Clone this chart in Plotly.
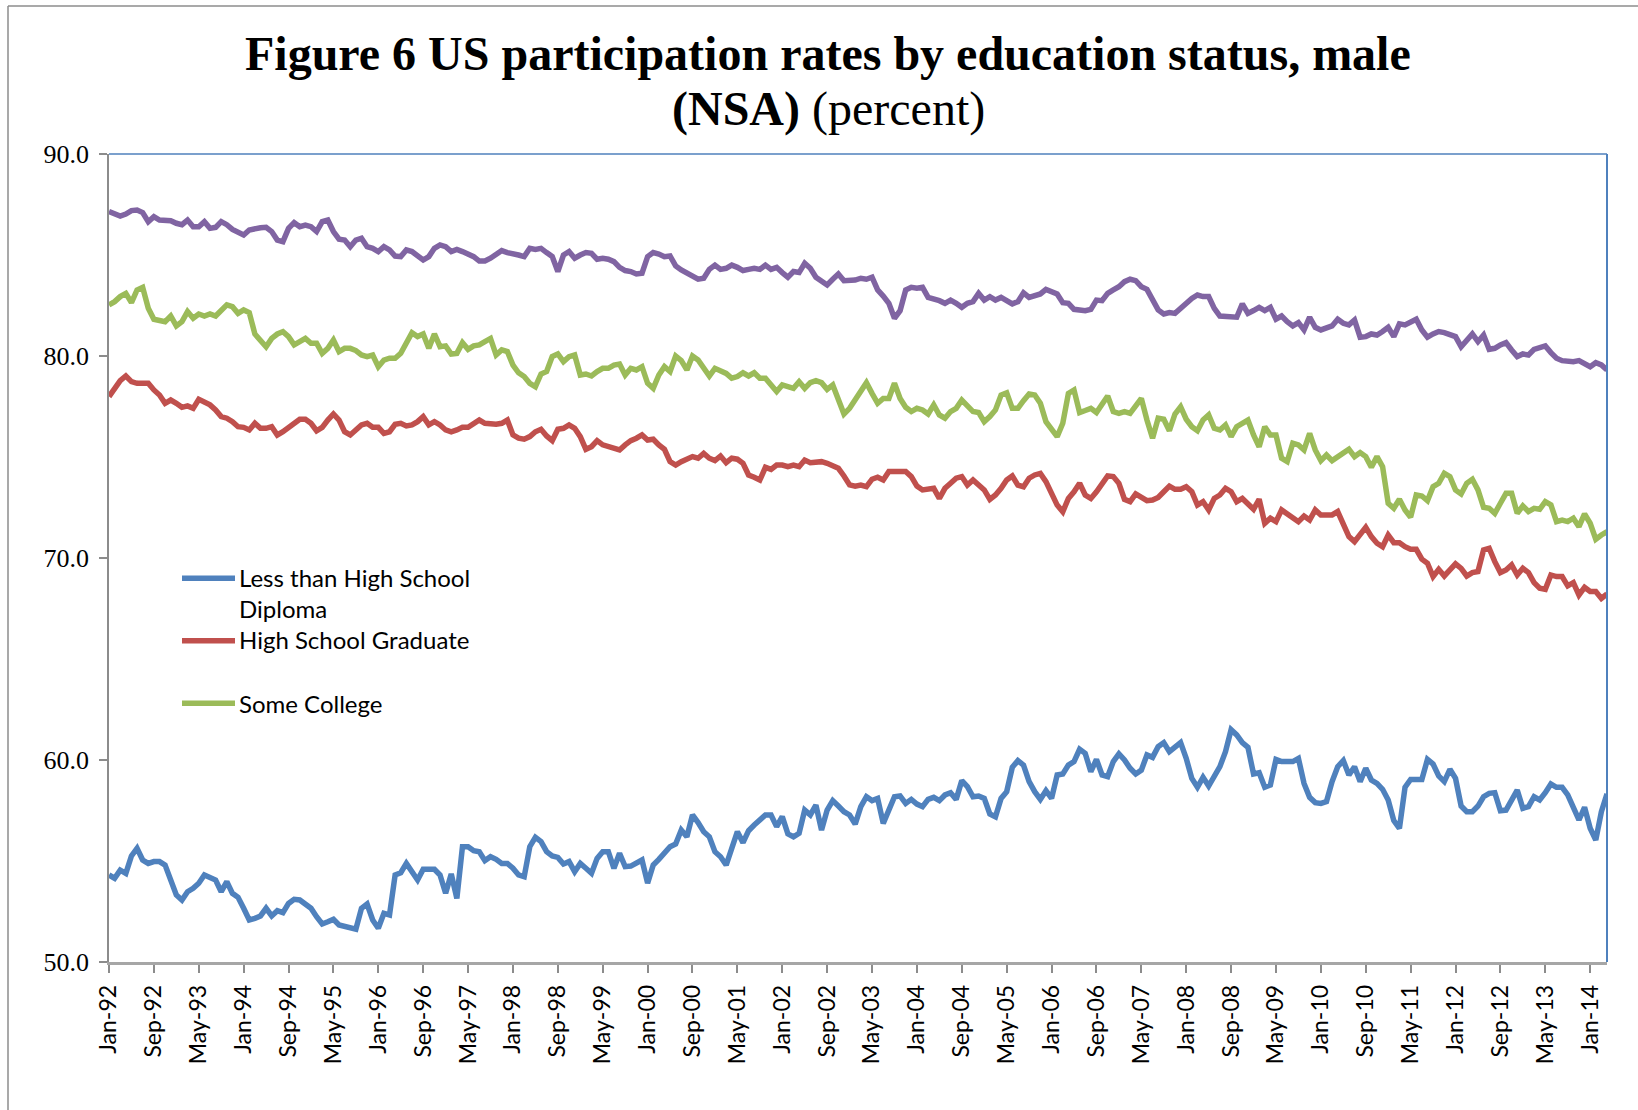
import pandas as pd
import plotly.graph_objects as go

# Monthly observations, Jan-1992 through Apr-2014
months = pd.date_range("1992-01-01", periods=268, freq="MS").strftime("%b-%y").tolist()

less_than_hs = [
    54.31, 54.14, 54.55, 54.39, 55.25, 55.63, 55.05, 54.88, 54.97, 54.97,
    54.8, 54.06, 53.32, 53.07, 53.48, 53.65, 53.9, 54.31, 54.22, 54.06,
    53.48, 53.98, 53.4, 53.2, 52.66, 52.08, 52.16, 52.28, 52.66, 52.28,
    52.54, 52.44, 52.9, 53.1, 53.07, 52.87, 52.66, 52.24, 51.88, 51.99,
    52.11, 51.83, 51.78, 51.72, 51.62, 52.66, 52.87, 52.08, 51.67, 52.41,
    52.33, 54.31, 54.42, 54.88, 54.47, 54.06, 54.59, 54.59, 54.59, 54.31,
    53.4, 54.36, 53.15, 55.71, 55.71, 55.51, 55.46, 55.02,
    55.21, 55.08, 54.88, 54.88, 54.64, 54.31, 54.22, 55.71, 56.17, 55.96,
    55.46, 55.25, 55.18, 54.85, 54.97, 54.47, 54.88, 54.64, 54.39, 55.13,
    55.46, 55.46, 54.64, 55.38, 54.72, 54.75, 54.92, 55.05, 53.9, 54.8,
    55.08, 55.35, 55.71, 55.84, 56.53, 56.2, 57.28, 56.9, 56.45, 56.2,
    55.46, 55.21, 54.8, 55.63, 56.45, 55.91, 56.5, 56.78, 56.99, 57.28,
    57.28, 56.7, 57.2, 56.34, 56.2, 56.37, 57.52, 57.28, 57.77, 56.53,
    57.52, 57.99, 57.72, 57.44, 57.28, 56.83, 57.69, 58.18, 57.99, 58.1,
    56.86, 57.52, 58.18, 58.22, 57.85, 58.05, 57.82, 57.69, 58.05, 58.15,
    57.99, 58.27, 58.38, 58.05, 58.98, 58.68, 58.18, 58.22, 58.1, 57.33,
    57.19, 58.1, 58.43, 59.64, 59.97, 59.75, 58.93, 58.43, 58.05, 58.48,
    58.1, 59.26, 59.31, 59.75, 59.92, 60.53, 60.33, 59.42, 60.03, 59.26,
    59.18, 59.92, 60.3, 60.0, 59.59, 59.31, 59.5, 60.25, 60.13, 60.66,
    60.86, 60.41, 60.63, 60.86, 60.08, 59.09, 58.65, 59.14, 58.71, 59.21,
    59.67, 60.41, 61.5, 61.24, 60.86, 60.63, 59.31, 59.37, 58.65, 58.76,
    60.03, 59.92, 59.92, 59.92, 60.08, 58.84, 58.15, 57.89, 57.85, 57.94,
    58.93, 59.67, 59.97, 59.26, 59.67, 58.93, 59.59, 59.01, 58.84, 58.55,
    58.02, 57.0, 56.62, 58.65, 59.04, 59.01, 59.04, 60.03, 59.8, 59.21,
    58.93, 59.54, 59.09, 57.72, 57.44, 57.44, 57.72, 58.18, 58.35, 58.38,
    57.49, 57.52, 58.02, 58.51, 57.61, 57.69, 58.18, 58.02, 58.38, 58.81,
    58.65, 58.65, 58.27, 57.61, 57.03, 57.66, 56.62, 56.04, 57.44, 58.32,
]

hs_graduate = [
    77.99, 78.4, 78.78, 79.01, 78.73, 78.65, 78.65, 78.65, 78.32, 78.07,
    77.66, 77.82, 77.66, 77.46, 77.53, 77.41, 77.86, 77.74, 77.58, 77.33,
    77.0, 76.92, 76.75, 76.5, 76.47, 76.34, 76.67, 76.42, 76.42, 76.5,
    76.09, 76.25, 76.47, 76.7, 76.87, 76.87, 76.67, 76.3, 76.47, 76.83,
    77.13, 76.83, 76.25, 76.09, 76.37, 76.59, 76.67, 76.47, 76.47, 76.17,
    76.25, 76.62, 76.67, 76.54, 76.59, 76.75, 77.0, 76.59, 76.75, 76.59,
    76.34, 76.25, 76.34, 76.47, 76.47, 76.67, 76.83, 76.67,
    76.62, 76.62, 76.67, 76.83, 76.09, 75.93, 75.88, 76.01, 76.25, 76.37,
    76.04, 75.81, 76.37, 76.42, 76.59, 76.42, 76.01, 75.38, 75.51, 75.81,
    75.6, 75.51, 75.48, 75.35, 75.6, 75.81, 75.93, 76.09, 75.84, 75.88,
    75.6, 75.38, 74.77, 74.6, 74.77, 74.89, 75.02, 74.94, 75.18, 74.94,
    74.82, 75.05, 74.72, 74.94, 74.89, 74.69, 74.11, 74.0, 73.86, 74.49,
    74.39, 74.6, 74.6, 74.52, 74.6, 74.52, 74.85, 74.72, 74.77, 74.77,
    74.69, 74.6, 74.44, 74.06, 73.62, 73.56, 73.61, 73.53, 73.9, 74.0,
    73.86, 74.28, 74.28, 74.28, 74.28, 74.03, 73.56, 73.37, 73.4, 73.45,
    72.95, 73.45, 73.7, 73.95, 74.03, 73.61, 73.86, 73.61, 73.37, 72.9,
    73.12, 73.45, 73.86, 74.06, 73.61, 73.53, 73.95, 74.11, 74.19, 73.78,
    73.12, 72.62, 72.29, 72.95, 73.28, 73.7, 73.12, 72.95, 73.28, 73.7,
    74.06, 74.03, 73.7, 72.9, 72.79, 73.17, 73.04, 72.84, 72.87, 73.0,
    73.28, 73.56, 73.4, 73.4, 73.53, 73.28, 72.62, 72.79, 72.38, 72.95,
    73.12, 73.45, 73.28, 72.79, 72.95, 72.71, 72.41, 72.91, 71.72, 71.97,
    71.8, 72.38, 72.21, 72.05, 71.8, 72.08, 71.88, 72.38, 72.13, 72.13,
    72.13, 72.3, 71.72, 71.06, 70.81, 71.22, 71.52, 71.06, 70.73, 70.56,
    71.14, 70.76, 70.76, 70.56, 70.43, 70.43, 69.94, 69.74, 69.08, 69.44,
    69.11, 69.41, 69.71, 69.49, 69.11, 69.28, 69.33, 70.4, 70.48, 69.82,
    69.28, 69.41, 69.66, 69.16, 69.49, 69.28, 68.78, 68.5, 68.45, 69.16,
    69.08, 69.08, 68.62, 68.78, 68.17, 68.55, 68.34, 68.34, 68.0, 68.22,
]

some_college = [
    82.53, 82.69, 82.94, 83.1, 82.64, 83.27, 83.4, 82.36, 81.82, 81.75,
    81.7, 81.98, 81.49, 81.7, 82.2, 81.87, 82.08, 81.98, 82.08, 81.98,
    82.24, 82.53, 82.44, 82.11, 82.28, 82.15, 81.09, 80.79, 80.46, 80.87,
    81.09, 81.2, 80.96, 80.55, 80.71, 80.87, 80.63, 80.63, 80.13, 80.38,
    80.79, 80.22, 80.38, 80.38, 80.27, 80.05, 79.97, 80.05, 79.47, 79.8,
    79.89, 79.89, 80.13, 80.71, 81.15, 80.96, 81.09, 80.38, 81.09, 80.46,
    80.5, 80.1, 80.13, 80.66, 80.33, 80.5, 80.55, 80.71,
    80.87, 80.05, 80.3, 80.22, 79.55, 79.17, 78.98, 78.65, 78.48, 79.11,
    79.23, 79.97, 80.1, 79.72, 79.97, 80.05, 79.06, 79.11, 79.01, 79.23,
    79.39, 79.39, 79.55, 79.6, 79.06, 79.39, 79.31, 79.47, 78.65, 78.4,
    79.06, 79.47, 79.23, 80.0, 79.77, 79.31, 80.0, 79.8, 79.34, 79.01,
    79.39, 79.23, 79.14, 78.9, 78.98, 79.17, 79.01, 79.17, 78.9, 78.9,
    78.57, 78.24, 78.57, 78.48, 78.4, 78.73, 78.4, 78.68, 78.78, 78.68,
    78.35, 78.57, 77.82, 77.13, 77.41, 77.82, 78.35, 78.68, 78.15, 77.66,
    77.9, 77.9, 78.65, 77.9, 77.46, 77.25, 77.41, 77.33, 77.13, 77.58,
    77.08, 76.92, 77.25, 77.41, 77.82, 77.53, 77.25, 77.2, 76.75, 77.0,
    77.33, 78.07, 78.18, 77.41, 77.41, 77.79, 78.12, 78.07, 77.66, 76.75,
    76.34, 76.01, 76.67, 78.15, 78.32, 77.2, 77.3, 77.41, 77.2, 77.58,
    78.02, 77.25, 77.16, 77.25, 77.16, 77.53, 77.9, 76.83, 75.93, 76.92,
    76.87, 76.3, 77.13, 77.49, 76.87, 76.5, 76.3, 76.83, 77.08, 76.42,
    76.34, 76.59, 76.01, 76.5, 76.67, 76.83, 76.09, 75.51, 76.5, 76.09,
    76.09, 74.94, 74.77, 75.68, 75.6, 75.35, 76.17, 75.35, 74.82, 75.1,
    74.82, 75.02, 75.22, 75.38, 75.02, 75.22, 75.02, 74.49, 75.02, 74.52,
    72.71, 72.46, 72.91, 72.38, 72.02, 73.12, 73.07, 72.84, 73.53, 73.7,
    74.19, 74.03, 73.37, 73.17, 73.7, 73.9, 73.37, 72.51, 72.46, 72.21,
    72.71, 73.2, 73.2, 72.21, 72.58, 72.3, 72.46, 72.41, 72.79, 72.63,
    71.8, 71.88, 71.8, 71.97, 71.55, 72.18, 71.72, 70.93, 71.14, 71.3,
]

bachelor_plus = [
    87.15, 87.06, 86.93, 87.03, 87.2, 87.23, 87.1, 86.65, 86.9, 86.73,
    86.7, 86.7, 86.57, 86.5, 86.73, 86.4, 86.4, 86.65, 86.32, 86.37,
    86.65, 86.5, 86.27, 86.16, 85.99, 86.24, 86.32, 86.35, 86.37, 86.16,
    85.74, 85.66, 86.32, 86.6, 86.4, 86.48, 86.4, 86.16, 86.65, 86.73,
    86.16, 85.78, 85.74, 85.41, 85.74, 85.83, 85.41, 85.33, 85.17, 85.41,
    85.25, 84.95, 84.92, 85.25, 85.17, 84.95, 84.75, 84.92, 85.33, 85.5,
    85.41, 85.17, 85.28, 85.17, 85.08, 84.92, 84.7, 84.7,
    84.84, 85.05, 85.22, 85.12, 85.08, 85.0, 84.92, 85.33, 85.28, 85.33,
    85.12, 84.92, 84.18, 85.0, 85.17, 84.84, 85.0, 85.12, 85.08, 84.79,
    84.84, 84.79, 84.67, 84.39, 84.23, 84.18, 84.06, 84.1, 84.92, 85.12,
    85.05, 84.92, 84.95, 84.46, 84.26, 84.1, 83.9, 83.8, 83.85, 84.29,
    84.5, 84.29, 84.34, 84.5, 84.39, 84.23, 84.29, 84.34, 84.29, 84.5,
    84.29, 84.39, 84.13, 83.9, 84.18, 84.13, 84.59, 84.34, 83.9, 83.68,
    83.52, 83.8, 84.06, 83.73, 83.73, 83.76, 83.85, 83.8, 83.9, 83.27,
    82.97, 82.61, 81.87, 82.24, 83.27, 83.4, 83.35, 83.4, 82.9, 82.85,
    82.74, 82.61, 82.77, 82.61, 82.41, 82.61, 82.69, 83.1, 82.77, 82.94,
    82.77, 82.9, 82.74, 82.58, 82.69, 83.13, 82.9, 82.97, 83.07, 83.3,
    83.19, 83.07, 82.64, 82.61, 82.31, 82.24, 82.24, 82.31, 82.77, 82.74,
    83.1, 83.27, 83.43, 83.68, 83.8, 83.73, 83.43, 83.3, 82.77, 82.28,
    82.08, 82.15, 82.11, 82.36, 82.64, 82.85, 83.02, 82.94, 82.94, 82.36,
    81.98, 81.98, 81.95, 81.92, 82.58, 82.11, 82.25, 82.41, 82.25, 82.41,
    81.82, 81.98, 81.7, 81.49, 81.65, 81.29, 81.92, 81.42, 81.29, 81.37,
    81.49, 81.82, 81.62, 81.54, 81.78, 80.93, 80.96, 81.09, 81.04, 81.21,
    81.42, 80.96, 81.59, 81.54, 81.65, 81.82, 81.29, 80.93, 81.09, 81.21,
    81.16, 81.04, 80.96, 80.46, 80.79, 81.09, 80.71, 81.04, 80.33, 80.38,
    80.55, 80.66, 80.3, 79.97, 80.1, 80.05, 80.33, 80.43, 80.5, 80.17,
    79.89, 79.77, 79.72, 79.72, 79.77, 79.64, 79.47, 79.67, 79.56, 79.31,
]

series = [
    ("Less than High School Diploma", less_than_hs, "#4F81BD"),
    ("High School Graduate", hs_graduate, "#C0504D"),
    ("Some College", some_college, "#9BBB59"),
    ("Bachelor's Degree and Higher", bachelor_plus, "#8064A2"),
]

tick_labels = months[::8]
y_ticks = [50, 60, 70, 80, 90]

# pixel geometry of the plotting area
W, H = 1638, 1110
ML, MR, MT, MB = 109, 31, 154, 148
PW, PH = W - ML - MR, H - MT - MB
LINE_W = 5.5


def px_x(px):
    return (px - ML) / PW


def px_y(py):
    return (H - MB - py) / PH


fig = go.Figure()
for name, vals, color in series:
    fig.add_trace(go.Scatter(
        x=months, y=vals, name=name, mode="lines",
        line=dict(color=color, width=LINE_W),
    ))

shapes = [
    # outer chart frame (top and left edges)
    dict(type="line", xref="paper", yref="paper", x0=px_x(8), x1=px_x(W + 5),
         y0=px_y(6), y1=px_y(6), line=dict(color="#8c8c8c", width=1.5)),
    dict(type="line", xref="paper", yref="paper", x0=px_x(8), x1=px_x(8),
         y0=px_y(6), y1=px_y(H + 5), line=dict(color="#8c8c8c", width=1.5)),
    # plot-area outline on top and right
    dict(type="line", xref="paper", yref="paper", x0=0, x1=1, y0=1, y1=1,
         line=dict(color="#4F81BD", width=1.5)),
    dict(type="line", xref="paper", yref="paper", x0=1, x1=1, y0=0, y1=1,
         line=dict(color="#4F81BD", width=2)),
]

# legend keys drawn inside the plot
legend_items = [
    ("Less than High School<br>Diploma", "#4F81BD", 578.3, 593.4),
    ("High School Graduate", "#C0504D", 640.7, 639.5),
    ("Some College", "#9BBB59", 703.3, 703.0),
]
annotations = []
for text, color, ly, ty in legend_items:
    shapes.append(dict(type="line", xref="paper", yref="paper",
                       x0=px_x(182), x1=px_x(235), y0=px_y(ly), y1=px_y(ly),
                       line=dict(color=color, width=LINE_W)))
    annotations.append(dict(xref="paper", yref="paper", x=px_x(237), y=px_y(ty),
                            xanchor="left", yanchor="middle", align="left",
                            text=text, showarrow=False,
                            font=dict(family="Lato", size=24, color="black")))

# two-line title
annotations.append(dict(xref="paper", yref="paper", x=px_x(828), y=px_y(54),
                        xanchor="center", yanchor="middle", showarrow=False,
                        text="<b>Figure 6 US participation rates by education status, male</b>",
                        font=dict(family="Liberation Serif", size=48, color="black")))
annotations.append(dict(xref="paper", yref="paper", x=px_x(828), y=px_y(109),
                        xanchor="center", yanchor="middle", showarrow=False,
                        text="<b>(NSA)</b> (percent)",
                        font=dict(family="Liberation Serif", size=48, color="black")))

fig.update_layout(
    width=W, height=H,
    margin=dict(l=ML, r=MR, t=MT, b=MB, pad=0),
    paper_bgcolor="white", plot_bgcolor="white",
    showlegend=False,
    shapes=shapes, annotations=annotations,
    xaxis=dict(
        type="category", categoryorder="array", categoryarray=months,
        range=[0, len(months) - 1],
        tickmode="array", tickvals=tick_labels, ticktext=tick_labels,
        tickangle=-90, ticks="outside", ticklen=8, tickwidth=1.5, tickcolor="#8c8c8c",
        ticklabelstandoff=3,
        showline=True, linecolor="#a6a6a6", linewidth=2.5,
        showgrid=False, zeroline=False,
        tickfont=dict(family="Lato", size=23, color="black"),
    ),
    yaxis=dict(
        range=[50, 90], tickmode="array", tickvals=y_ticks, tickformat=".1f",
        ticks="outside", ticklen=8, tickwidth=1.5, tickcolor="#8c8c8c",
        ticklabelstandoff=5,
        showline=True, linecolor="#8c8c8c", linewidth=1.5,
        showgrid=False, zeroline=False,
        tickfont=dict(family="Liberation Serif", size=26, color="black"),
    ),
)

fig.write_html("out.html")
